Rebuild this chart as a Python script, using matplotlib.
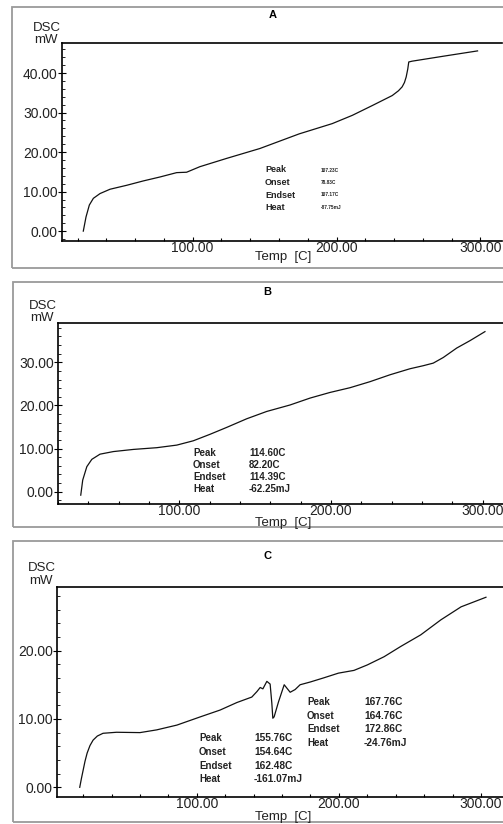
import matplotlib.pyplot as plt
from matplotlib.patches import Rectangle
from matplotlib.ticker import MultipleLocator, FormatStrFormatter

plt.rcParams['font.family'] = ['Liberation Sans', 'DejaVu Sans']

W, H = 503, 824

# panel A
temp_a = [24.0, 25.9, 28.2, 31.0, 35.6, 42.6, 54.2, 65.7, 77.3, 88.9, 95.8,
          105.0, 123.6, 146.7, 174.0, 197.0, 211.0, 225.0, 238.7,
          243.0, 245.6, 247.2, 248.4, 249.5, 250.2, 252.5, 275.0, 298.0]
dsc_a = [0.0, 3.6, 6.6, 8.3, 9.5, 10.6, 11.6, 12.7, 13.7, 14.8, 14.9,
         16.3, 18.4, 20.9, 24.6, 27.2, 29.3, 31.8, 34.3,
         35.5, 36.5, 37.6, 39.0, 41.0, 42.8, 43.0, 44.3, 45.6]

# panel B
temp_b = [35.0, 36.3, 39.0, 42.3, 47.7, 56.5, 69.7, 85.1, 98.3, 109.2, 120.2,
          131.2, 144.4, 157.6, 173.0, 186.2, 199.3, 212.5, 225.7, 238.9,
          252.1, 260.8, 267.4, 274.0, 282.9, 291.6, 301.5]
dsc_b = [-0.8, 2.7, 5.8, 7.5, 8.7, 9.3, 9.8, 10.2, 10.8, 11.8, 13.3,
         14.9, 16.9, 18.6, 20.1, 21.7, 23.0, 24.1, 25.5, 27.1,
         28.5, 29.2, 29.8, 31.1, 33.3, 35.0, 37.1]

# panel C
temp_c = [17.6, 18.8, 20.0, 21.3, 22.8, 24.8, 27.0, 30.0, 34.0, 43.5, 60.0, 71.8, 86.0,
          102.4, 116.4, 128.2, 138.7, 142.3, 144.6, 146.5, 149.3, 151.6, 152.8,
          153.5, 154.4, 157.5, 161.5, 165.7, 169.2, 172.7, 179.8, 189.2, 199.7,
          210.6, 220.0, 231.8, 243.5, 257.6, 271.8, 286.0, 303.5]
dsc_c = [0.0, 1.3, 2.5, 3.8, 5.0, 6.1, 6.9, 7.5, 7.9, 8.05, 8.0, 8.4, 9.1,
         10.3, 11.3, 12.4, 13.2, 14.0, 14.6, 14.4, 15.5, 15.1, 12.3,
         10.1, 10.3, 12.5, 15.0, 13.9, 14.3, 15.0, 15.4, 16.0, 16.7,
         17.1, 17.9, 19.1, 20.6, 22.3, 24.5, 26.4, 27.8]

labels = ['Peak', 'Onset', 'Endset', 'Heat']
info_a = ['107.23C', '78.83C', '107.17C', '-87.75mJ']
info_b = ['114.60C', '82.20C', '114.39C', '-62.25mJ']
info_c1 = ['155.76C', '154.64C', '162.48C', '-161.07mJ']
info_c2 = ['167.76C', '164.76C', '172.86C', '-24.76mJ']


def fx(px):
    return px / W


def fy(py):
    return 1 - py / H


fig = plt.figure(figsize=(W / 100, H / 100), dpi=100)


def panel(letter, frame, box, head, xlim, ylim, temp, dsc, infos):
    fl, ft, fb = frame
    fig.patches.append(Rectangle((fx(fl), fy(fb)), 1.02 - fx(fl), fy(ft) - fy(fb),
                                 transform=fig.transFigure, fill=False,
                                 edgecolor='#9a9a9a', lw=1.3))
    l, t, r, b = box
    title_xy, dsc_y, mw_y, temp_y = head
    ax = fig.add_axes([fx(l), fy(b), fx(r) - fx(l), fy(t) - fy(b)])
    ax.plot(temp, dsc, color='#111', lw=0.9)
    ax.set_xlim(*xlim)
    ax.set_ylim(*ylim)
    ax.xaxis.set_major_locator(MultipleLocator(100))
    ax.xaxis.set_minor_locator(MultipleLocator(20))
    ax.yaxis.set_major_locator(MultipleLocator(10))
    ax.yaxis.set_minor_locator(MultipleLocator(2))
    ax.xaxis.set_major_formatter(FormatStrFormatter('%.2f'))
    ax.yaxis.set_major_formatter(FormatStrFormatter('%.2f'))
    ax.tick_params(axis='x', which='major', direction='in', length=3, width=0.8,
                   labelsize=10, pad=0, labelcolor='#222')
    ax.tick_params(axis='x', which='minor', direction='in', length=2, width=0.8)
    ax.tick_params(axis='y', which='major', direction='inout', length=6, width=0.8,
                   labelsize=10, pad=0, labelcolor='#222')
    ax.tick_params(axis='y', which='minor', direction='in', length=2, width=0.6)
    for s in ax.spines.values():
        s.set_linewidth(1.2)
    ax.spines['right'].set_visible(False)
    fig.text(fx(283), fy(temp_y), 'Temp  [C]', ha='center', va='center',
             fontsize=9.5, color='#222')
    fig.text(fx(l - 15), fy(dsc_y), 'DSC', ha='center', va='center', fontsize=9.5,
             color='#222')
    fig.text(fx(l - 16), fy(mw_y), 'mW', ha='center', va='center', fontsize=9.5,
             color='#222')
    fig.text(fx(title_xy[0]), fy(title_xy[1]), letter, ha='center', va='center',
             fontsize=8, fontweight='bold')
    for (px, vx, rows, size, vsize, vals) in infos:
        for lab, val, ry in zip(labels, vals, rows):
            fig.text(fx(px), fy(ry), lab, ha='left', va='center', fontsize=size,
                     fontweight='bold', color='#222')
            fig.text(fx(vx), fy(ry), val, ha='left', va='center', fontsize=vsize,
                     fontweight='bold', color='#222')
    return ax


panel('A', (12, 7, 268), (62, 43, 502, 241), ((273, 15), 28, 40, 257),
      (9.2, 315), (-2.5, 47.6),
      temp_a, dsc_a, [(265, 321, [170, 182.7, 195, 207.3], 6.5, 3.4, info_a)])
panel('B', (13, 282, 527), (58, 323, 503, 504), ((267, 292), 306, 318, 523),
      (20, 313.4), (-2.85, 39.1),
      temp_b, dsc_b, [(193, 249, [453, 465, 477, 489], 7, 7, info_b)])
panel('C', (13, 541, 822), (57, 587, 503, 797), ((268, 556), 568, 581, 817),
      (1.6, 315.5), (-1.42, 29.3),
      temp_c, dsc_c, [(199, 254, [738, 752, 766, 779], 7, 7.3, info_c1),
                      (307, 364, [702, 716, 729, 743], 7, 7.3, info_c2)])

fig.savefig('out.png', dpi=100)
